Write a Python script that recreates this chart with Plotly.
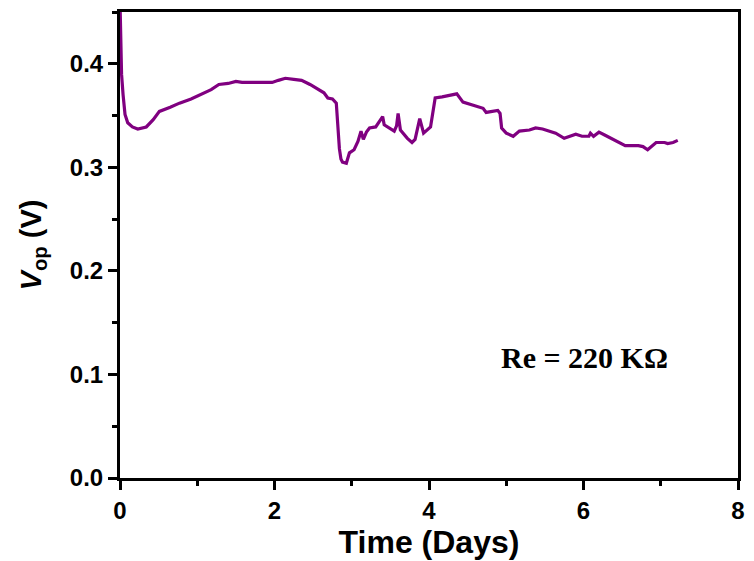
import plotly.graph_objects as go

time_days = [0.0, 0.01, 0.02, 0.04, 0.065, 0.1, 0.16, 0.23, 0.34, 0.43, 0.51, 0.65, 0.77, 0.92, 1.07, 1.18,
             1.28, 1.40, 1.50, 1.58, 1.75, 1.97, 2.05, 2.14, 2.25, 2.35, 2.46, 2.56, 2.64, 2.69, 2.75, 2.80,
             2.82, 2.84, 2.86, 2.88, 2.93, 2.97, 3.03, 3.08, 3.12, 3.15, 3.19, 3.23, 3.31, 3.35, 3.40,
             3.42, 3.48, 3.55, 3.58, 3.60, 3.63, 3.72, 3.78, 3.82, 3.88, 3.93, 4.02, 4.05, 4.08, 4.17,
             4.29, 4.36, 4.44, 4.57, 4.70, 4.74, 4.80, 4.89, 4.92, 4.94, 5.00, 5.09, 5.17, 5.30, 5.38,
             5.47, 5.64, 5.75, 5.90, 5.98, 6.07, 6.09, 6.13, 6.20, 6.28, 6.41, 6.54, 6.71, 6.77, 6.83,
             6.94, 7.05, 7.09, 7.16, 7.22]
v_op = [0.46, 0.405, 0.39, 0.37, 0.351, 0.343, 0.339, 0.337, 0.339, 0.346, 0.354, 0.358, 0.362, 0.366, 0.371, 0.375,
        0.380, 0.381, 0.383, 0.382, 0.382, 0.382, 0.384, 0.386, 0.385, 0.384, 0.380, 0.376, 0.372, 0.367, 0.366, 0.362,
        0.340, 0.318, 0.308, 0.305, 0.304, 0.314, 0.317, 0.325, 0.335, 0.327, 0.334, 0.338, 0.339, 0.343, 0.349,
        0.341, 0.338, 0.335, 0.340, 0.352, 0.336, 0.328, 0.324, 0.327, 0.347, 0.333, 0.339, 0.355, 0.367, 0.368,
        0.370, 0.371, 0.363, 0.360, 0.357, 0.353, 0.354, 0.355, 0.352, 0.338, 0.333, 0.330, 0.335, 0.336, 0.338,
        0.337, 0.333, 0.328, 0.332, 0.330, 0.330, 0.333, 0.330, 0.334, 0.331, 0.326, 0.321, 0.321, 0.320, 0.317,
        0.324, 0.324, 0.323, 0.324, 0.326]

x_ticks = [0, 2, 4, 6, 8]
y_ticks = [0.0, 0.1, 0.2, 0.3, 0.4]
y_tick_labels = ["0.0", "0.1", "0.2", "0.3", "0.4"]

fig = go.Figure()
fig.add_trace(go.Scatter(x=time_days, y=v_op, mode="lines",
                         line=dict(color="#800080", width=3.2), showlegend=False))

sans = "Liberation Sans, Arial, sans-serif"
axis_common = dict(showline=True, linecolor="black", linewidth=3, mirror=True,
                   ticks="outside", tickcolor="black", tickwidth=2.5, ticklen=9,
                   showgrid=False, zeroline=False,
                   tickfont=dict(family=sans, size=24, color="black", weight="bold"))

fig.update_layout(
    width=754, height=561,
    margin=dict(l=120, r=9, t=10, b=83),
    plot_bgcolor="white", paper_bgcolor="white",
    xaxis=dict(range=[0, 8], tickvals=x_ticks, ticktext=[str(v) for v in x_ticks],
               minor=dict(dtick=1, tick0=0, ticks="outside", ticklen=5, tickwidth=2.5, tickcolor="black"),
               title=dict(text="Time (Days)", standoff=0,
                          font=dict(family=sans, size=32, color="black", weight="bold")),
               **axis_common),
    yaxis=dict(range=[0, 0.45], tickvals=y_ticks, ticktext=y_tick_labels,
               minor=dict(dtick=0.05, tick0=0, ticks="outside", ticklen=5, tickwidth=2.5, tickcolor="black"),
               title=dict(text="<i>V</i><sub>op</sub> (V)", standoff=20,
                          font=dict(family=sans, size=29, color="black", weight="bold")),
               **axis_common),
    annotations=[dict(x=6.01, y=0.116, xref="x", yref="y", text="Re = 220 KΩ", showarrow=False,
                      font=dict(family="Liberation Serif, Times New Roman, serif", size=30,
                                color="black", weight="bold"))],
)

fig.write_html("out.html")
